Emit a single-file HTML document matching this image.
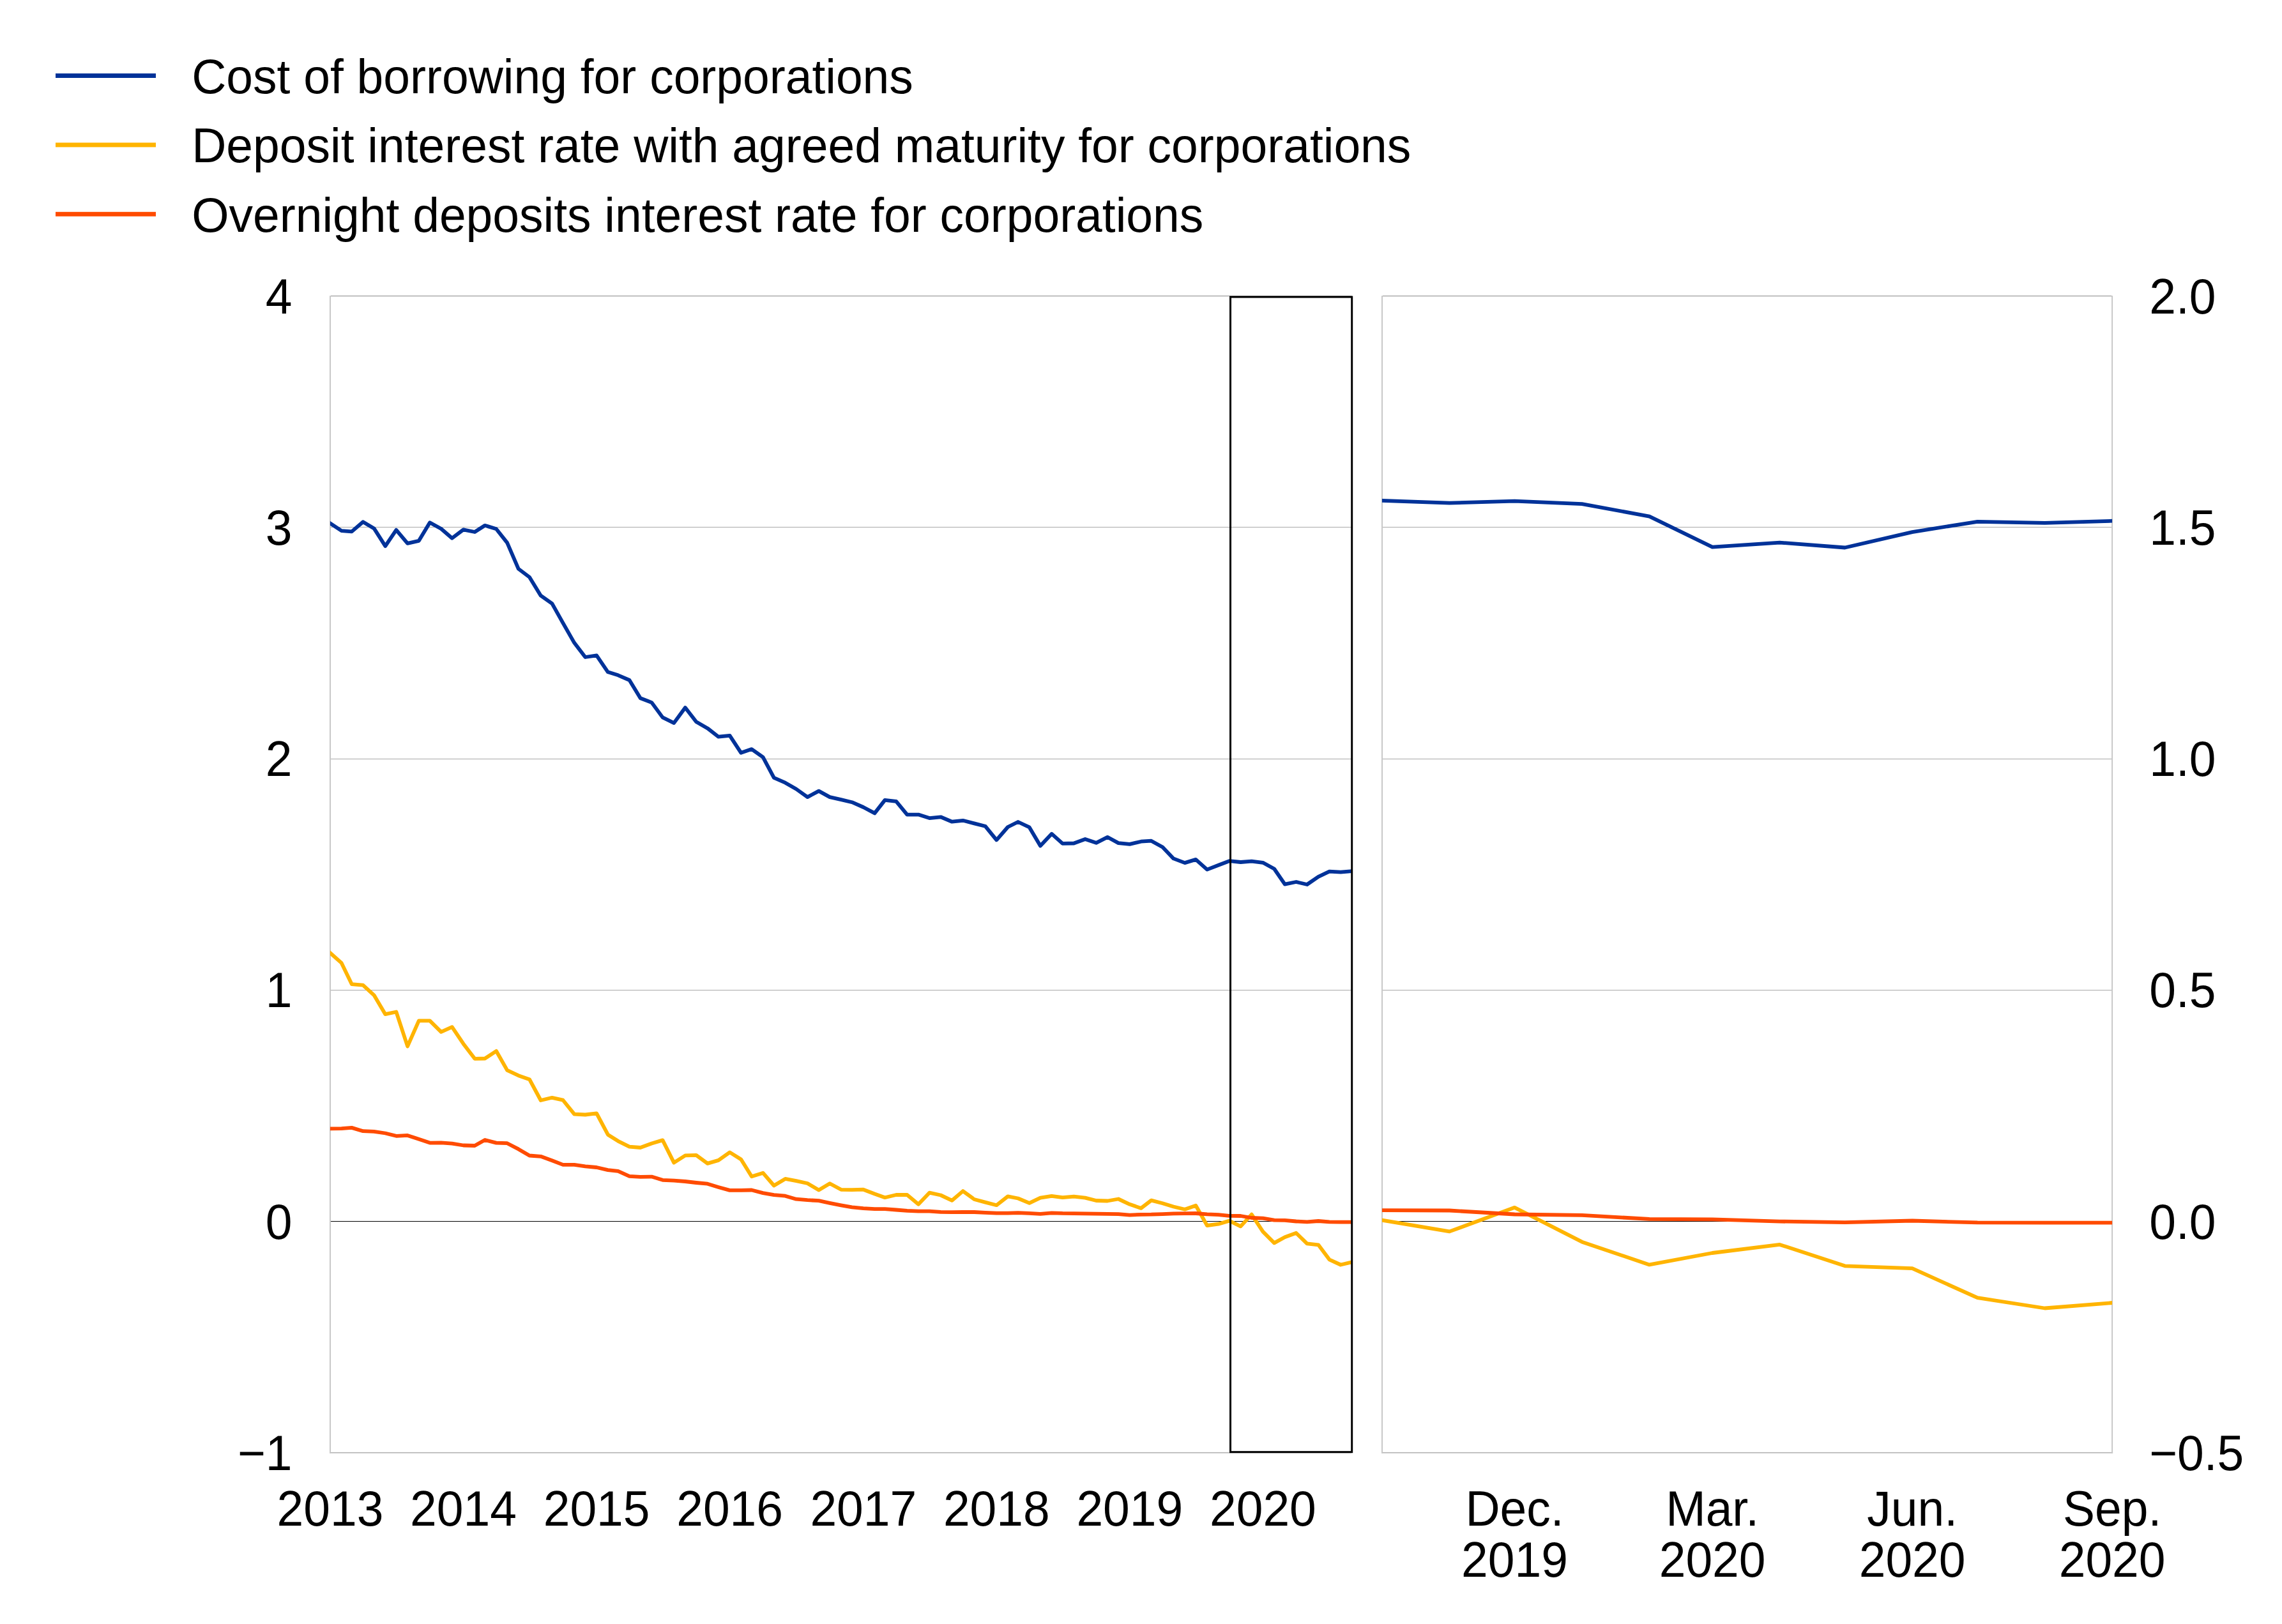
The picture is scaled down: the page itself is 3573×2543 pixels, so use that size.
<!DOCTYPE html>
<html lang="en"><head><meta charset="utf-8"><title>Chart</title>
<style>html,body{margin:0;padding:0;background:#fff}svg{display:block}text{font-family:"Liberation Sans",Arial,sans-serif;font-size:75px;fill:#000}</style></head><body>
<svg width="3573" height="2543" viewBox="0 0 3573 2543">
<rect width="3573" height="2543" fill="#fff"/>
<rect x="87" y="115.0" width="157" height="7" fill="#003299"/>
<text transform="translate(300.2,145.8) scale(1,1.02)" text-anchor="start">Cost of borrowing for corporations</text>
<rect x="87" y="223.4" width="157" height="7" fill="#FFB400"/>
<text transform="translate(300.2,254.2) scale(1,1.02)" text-anchor="start">Deposit interest rate with agreed maturity for corporations</text>
<rect x="87" y="331.8" width="157" height="7" fill="#FF4B00"/>
<text transform="translate(300.2,362.6) scale(1,1.02)" text-anchor="start">Overnight deposits interest rate for corporations</text>
<rect x="517.0" y="463" width="1599.8" height="1" fill="#888888"/>
<rect x="517.0" y="825" width="1599.8" height="1" fill="#a8a8a8"/>
<rect x="517.0" y="1188" width="1599.8" height="1" fill="#a8a8a8"/>
<rect x="517.0" y="1550" width="1599.8" height="1" fill="#a8a8a8"/>
<rect x="517.0" y="1912" width="1599.8" height="1" fill="#000000"/>
<rect x="516.0" y="2273.9" width="1599.8" height="1.7" fill="#b6b6b6"/>
<rect x="2164.0" y="463" width="1143.1" height="1" fill="#888888"/>
<rect x="2164.0" y="825" width="1143.1" height="1" fill="#a8a8a8"/>
<rect x="2164.0" y="1188" width="1143.1" height="1" fill="#a8a8a8"/>
<rect x="2164.0" y="1550" width="1143.1" height="1" fill="#a8a8a8"/>
<rect x="2164.0" y="1912" width="1143.1" height="1" fill="#000000"/>
<rect x="2163.0" y="2273.9" width="1145.1" height="1.7" fill="#b6b6b6"/>
<rect x="516.0" y="463" width="2" height="1812.6" fill="#c8c8c8"/>
<rect x="2163.0" y="463" width="2" height="1812.6" fill="#c8c8c8"/>
<rect x="3306.1" y="463" width="2" height="1812.6" fill="#c8c8c8"/>
<defs><clipPath id="cl"><rect x="516.9" y="463.5" width="1600.0000000000002" height="1811.1999999999998"/></clipPath><clipPath id="cr"><rect x="2163.9" y="463.5" width="1143.1999999999998" height="1811.1999999999998"/></clipPath></defs>
<polyline clip-path="url(#cl)" fill="none" stroke="#003299" stroke-width="5.8" stroke-linejoin="round" stroke-linecap="square" points="517.0,819.5 534.7,831.1 550.7,832.4 568.4,817.3 585.6,827.4 603.3,855.1 620.4,829.8 638.1,850.9 655.8,846.8 673.0,818.2 690.7,828.0 707.8,842.7 725.5,829.4 743.3,833.0 759.3,822.8 777.0,828.3 794.1,849.9 811.8,890.8 829.0,903.7 846.7,932.7 864.4,945.2 881.5,975.7 899.2,1006.6 916.4,1029.0 934.1,1026.4 951.8,1052.3 967.8,1057.3 985.5,1065.0 1002.7,1093.3 1020.4,1100.1 1037.5,1123.4 1055.2,1132.1 1072.9,1108.0 1090.1,1130.2 1107.8,1140.4 1124.9,1153.7 1142.6,1151.8 1160.3,1178.8 1176.9,1173.1 1194.6,1185.6 1211.8,1217.9 1229.5,1225.7 1246.6,1235.5 1264.3,1248.1 1282.0,1238.6 1299.2,1248.1 1316.9,1252.1 1334.0,1256.2 1351.8,1264.0 1369.5,1273.4 1385.5,1252.9 1403.2,1254.9 1420.3,1275.6 1438.0,1275.6 1455.2,1281.1 1472.9,1279.3 1490.6,1286.7 1507.7,1284.8 1525.4,1289.4 1542.6,1293.7 1560.3,1315.3 1578.0,1295.0 1594.0,1287.0 1611.7,1295.4 1628.9,1324.5 1646.6,1305.7 1663.7,1320.8 1681.4,1320.5 1699.1,1314.0 1716.3,1319.8 1734.0,1310.8 1751.1,1320.1 1768.8,1321.9 1786.6,1317.7 1802.6,1316.7 1820.3,1326.5 1837.4,1344.4 1855.1,1351.1 1872.3,1345.9 1890.0,1361.6 1907.7,1354.8 1924.8,1348.2 1942.5,1350.0 1959.7,1348.6 1977.4,1350.8 1995.1,1360.5 2011.7,1384.6 2029.4,1381.0 2046.5,1385.0 2064.2,1372.8 2081.4,1364.6 2099.1,1365.7 2116.8,1364.1"/>
<polyline clip-path="url(#cl)" fill="none" stroke="#FFB400" stroke-width="5.8" stroke-linejoin="round" stroke-linecap="square" points="517.0,1492.2 534.7,1507.9 550.7,1541.1 568.4,1542.6 585.6,1558.3 603.3,1588.2 620.4,1584.5 638.1,1638.4 655.8,1598.4 673.0,1598.4 690.7,1615.9 707.8,1608.2 725.5,1634.4 743.3,1657.8 759.3,1657.5 777.0,1645.8 794.1,1675.9 811.8,1684.2 829.0,1690.2 846.7,1723.0 864.4,1718.8 881.5,1722.7 899.2,1744.6 916.4,1745.5 934.1,1743.4 951.8,1776.7 967.8,1786.8 985.5,1795.7 1002.7,1797.0 1020.4,1790.5 1037.5,1785.4 1055.2,1820.6 1072.9,1809.4 1090.1,1808.8 1107.8,1821.9 1124.9,1816.9 1142.6,1804.4 1160.3,1815.5 1176.9,1842.2 1194.6,1836.7 1211.8,1856.5 1229.5,1845.9 1246.6,1849.1 1264.3,1853.0 1282.0,1863.5 1299.2,1853.3 1316.9,1862.8 1334.0,1863.2 1351.8,1862.7 1369.5,1869.5 1385.5,1875.2 1403.2,1871.0 1420.3,1871.0 1438.0,1885.7 1455.2,1867.7 1472.9,1871.5 1490.6,1879.8 1507.7,1865.1 1525.4,1878.0 1542.6,1882.6 1560.3,1887.2 1578.0,1873.4 1594.0,1876.5 1611.7,1883.9 1628.9,1875.6 1646.6,1872.8 1663.7,1875.2 1681.4,1873.7 1699.1,1875.6 1716.3,1880.0 1734.0,1880.5 1751.1,1877.5 1768.8,1885.8 1786.6,1891.9 1802.6,1879.6 1820.3,1884.2 1837.4,1889.5 1855.1,1893.7 1872.3,1887.7 1890.0,1919.0 1907.7,1916.7 1924.8,1911.6 1942.5,1920.4 1959.7,1901.6 1977.4,1928.6 1995.1,1946.4 2011.7,1937.2 2029.4,1930.7 2046.5,1947.4 2064.2,1949.3 2081.4,1972.3 2099.1,1980.5 2116.8,1976.3"/>
<polyline clip-path="url(#cl)" fill="none" stroke="#FF4B00" stroke-width="5.8" stroke-linejoin="round" stroke-linecap="square" points="517.0,1767.4 534.7,1767.2 550.7,1765.9 568.4,1771.2 585.6,1771.8 603.3,1774.5 620.4,1778.8 638.1,1777.9 655.8,1783.7 673.0,1789.6 690.7,1789.3 707.8,1790.7 725.5,1793.5 743.3,1794.0 759.3,1785.0 777.0,1789.6 794.1,1790.2 811.8,1799.4 829.0,1809.5 846.7,1810.8 864.4,1817.2 881.5,1823.9 899.2,1823.9 916.4,1826.3 934.1,1828.0 951.8,1832.1 967.8,1833.9 985.5,1841.9 1002.7,1842.8 1020.4,1842.6 1037.5,1847.8 1055.2,1848.7 1072.9,1850.0 1090.1,1852.0 1107.8,1853.7 1124.9,1858.9 1142.6,1863.9 1160.3,1863.9 1176.9,1863.5 1194.6,1868.1 1211.8,1871.2 1229.5,1872.7 1246.6,1877.7 1264.3,1879.2 1282.0,1880.1 1299.2,1883.8 1316.9,1887.3 1334.0,1890.3 1351.8,1892.1 1369.5,1893.1 1385.5,1893.1 1403.2,1894.5 1420.3,1895.8 1438.0,1896.6 1455.2,1896.6 1472.9,1897.9 1490.6,1898.2 1507.7,1898.0 1525.4,1898.0 1542.6,1898.8 1560.3,1899.7 1578.0,1899.7 1594.0,1899.1 1611.7,1899.9 1628.9,1900.8 1646.6,1899.3 1663.7,1899.9 1681.4,1900.1 1699.1,1900.4 1716.3,1900.6 1734.0,1900.9 1751.1,1901.1 1768.8,1902.6 1786.6,1901.8 1802.6,1901.7 1820.3,1901.1 1837.4,1900.4 1855.1,1900.2 1872.3,1900.0 1890.0,1901.3 1907.7,1902.2 1924.8,1903.8 1942.5,1904.0 1959.7,1907.0 1977.4,1907.7 1995.1,1910.7 2011.7,1910.9 2029.4,1912.5 2046.5,1913.3 2064.2,1912.0 2081.4,1913.4 2099.1,1913.6 2116.8,1913.6"/>
<polyline clip-path="url(#cr)" fill="none" stroke="#003299" stroke-width="5.8" stroke-linejoin="round" stroke-linecap="square" points="2164.0,783.9 2269.5,787.6 2371.5,784.7 2477.0,789.2 2582.5,808.6 2681.1,856.7 2786.6,849.6 2888.6,857.5 2994.1,833.1 3096.2,816.8 3201.6,818.9 3307.1,815.7"/>
<polyline clip-path="url(#cr)" fill="none" stroke="#FFB400" stroke-width="5.8" stroke-linejoin="round" stroke-linecap="square" points="2164.0,1910.7 2269.5,1928.4 2371.5,1890.8 2477.0,1944.7 2582.5,1980.4 2681.1,1962.0 2786.6,1948.9 2888.6,1982.3 2994.1,1986.2 3096.2,2032.2 3201.6,2048.5 3307.1,2040.1"/>
<polyline clip-path="url(#cr)" fill="none" stroke="#FF4B00" stroke-width="5.8" stroke-linejoin="round" stroke-linecap="square" points="2164.0,1895.2 2269.5,1895.5 2371.5,1901.5 2477.0,1902.9 2582.5,1908.9 2681.1,1909.4 2786.6,1912.6 2888.6,1914.2 2994.1,1911.5 3096.2,1914.4 3201.6,1914.7 3307.1,1914.7"/>
<rect x="1926.5" y="465" width="190.2" height="1808.7" fill="none" stroke="#000" stroke-width="3"/>
<text transform="translate(457.4,490.7) scale(1,1.04)" text-anchor="end">4</text>
<text transform="translate(457.4,852.9) scale(1,1.04)" text-anchor="end">3</text>
<text transform="translate(457.4,1215.2) scale(1,1.04)" text-anchor="end">2</text>
<text transform="translate(457.4,1577.4) scale(1,1.04)" text-anchor="end">1</text>
<text transform="translate(457.4,1939.7) scale(1,1.04)" text-anchor="end">0</text>
<text transform="translate(457.4,2301.9) scale(1,1.04)" text-anchor="end">−1</text>
<text transform="translate(3365.2,490.7) scale(1,1.04)" text-anchor="start">2.0</text>
<text transform="translate(3365.2,852.9) scale(1,1.04)" text-anchor="start">1.5</text>
<text transform="translate(3365.2,1215.2) scale(1,1.04)" text-anchor="start">1.0</text>
<text transform="translate(3365.2,1577.4) scale(1,1.04)" text-anchor="start">0.5</text>
<text transform="translate(3365.2,1939.7) scale(1,1.04)" text-anchor="start">0.0</text>
<text transform="translate(3365.2,2301.9) scale(1,1.04)" text-anchor="start">−0.5</text>
<text transform="translate(517.0,2388.6) scale(1,1.04)" text-anchor="middle">2013</text>
<text transform="translate(725.5,2388.6) scale(1,1.04)" text-anchor="middle">2014</text>
<text transform="translate(934.1,2388.6) scale(1,1.04)" text-anchor="middle">2015</text>
<text transform="translate(1142.6,2388.6) scale(1,1.04)" text-anchor="middle">2016</text>
<text transform="translate(1351.8,2388.6) scale(1,1.04)" text-anchor="middle">2017</text>
<text transform="translate(1560.3,2388.6) scale(1,1.04)" text-anchor="middle">2018</text>
<text transform="translate(1768.8,2388.6) scale(1,1.04)" text-anchor="middle">2019</text>
<text transform="translate(1977.4,2388.6) scale(1,1.04)" text-anchor="middle">2020</text>
<text transform="translate(2371.5,2388.6) scale(1,1.035)" text-anchor="middle">Dec.</text>
<text transform="translate(2371.5,2469.0) scale(1,1.04)" text-anchor="middle">2019</text>
<text transform="translate(2681.1,2388.6) scale(1,1.035)" text-anchor="middle">Mar.</text>
<text transform="translate(2681.1,2469.0) scale(1,1.04)" text-anchor="middle">2020</text>
<text transform="translate(2994.1,2388.6) scale(1,1.035)" text-anchor="middle">Jun.</text>
<text transform="translate(2994.1,2469.0) scale(1,1.04)" text-anchor="middle">2020</text>
<text transform="translate(3307.1,2388.6) scale(1,1.035)" text-anchor="middle">Sep.</text>
<text transform="translate(3307.1,2469.0) scale(1,1.04)" text-anchor="middle">2020</text>
</svg></body></html>
